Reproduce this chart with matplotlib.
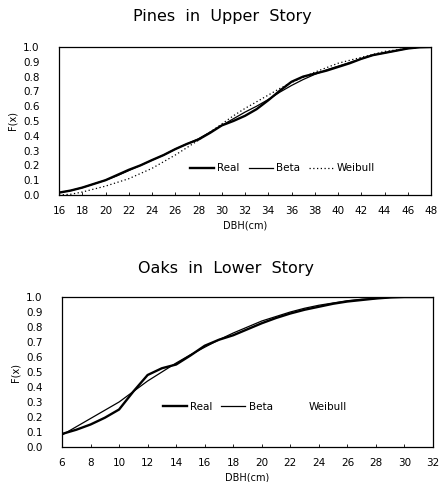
import matplotlib
matplotlib.use("Agg")
import matplotlib.pyplot as plt
from matplotlib.lines import Line2D

# --- Pines in upper story: cumulative distribution of DBH ---
pine_dbh = [16, 17, 18, 19, 20, 21, 22, 23, 24, 25, 26, 27, 28, 29, 30, 31, 32,
            33, 34, 35, 36, 37, 38, 39, 40, 41, 42, 43, 44, 45, 46, 47, 48]
pine_real = [0.016, 0.03, 0.05, 0.075, 0.10, 0.135, 0.17, 0.20, 0.236, 0.27, 0.31,
             0.345, 0.375, 0.42, 0.47, 0.50, 0.535, 0.58, 0.64, 0.705, 0.765, 0.80,
             0.82, 0.84, 0.865, 0.89, 0.92, 0.945, 0.96, 0.975, 0.99, 0.998, 1.0]
pine_beta = [0.016, 0.03, 0.05, 0.075, 0.10, 0.13, 0.165, 0.20, 0.235, 0.27, 0.31,
             0.345, 0.38, 0.425, 0.47, 0.515, 0.56, 0.60, 0.645, 0.695, 0.74, 0.78,
             0.815, 0.845, 0.87, 0.895, 0.92, 0.945, 0.96, 0.975, 0.99, 0.998, 1.0]
pine_weibull = [0.0, 0.005, 0.02, 0.04, 0.06, 0.085, 0.11, 0.145, 0.18, 0.225, 0.27,
                0.32, 0.37, 0.425, 0.48, 0.535, 0.585, 0.63, 0.675, 0.72, 0.76, 0.795,
                0.83, 0.86, 0.89, 0.91, 0.93, 0.95, 0.97, 0.98, 0.99, 0.997, 1.0]

# --- Oaks in lower story ---
oak_dbh = [6, 7, 8, 9, 10, 11, 12, 13, 14, 15, 16, 17, 18, 19, 20, 21, 22, 23, 24,
           25, 26, 27, 28, 29, 30, 31, 32]
oak_real = [0.087, 0.115, 0.15, 0.195, 0.25, 0.37, 0.48, 0.525, 0.55, 0.61, 0.675,
            0.715, 0.745, 0.785, 0.825, 0.86, 0.89, 0.915, 0.935, 0.955, 0.97, 0.98,
            0.99, 0.997, 1.0, 1.0, 1.0]
oak_beta = [0.08, 0.135, 0.19, 0.245, 0.30, 0.37, 0.44, 0.50, 0.56, 0.615, 0.665,
            0.715, 0.76, 0.80, 0.84, 0.87, 0.90, 0.925, 0.945, 0.96, 0.975, 0.985,
            0.99, 0.997, 1.0, 1.0, 1.0]

yticks = [round(0.1 * i, 1) for i in range(11)]
tick_font = dict(fontsize=7.5, family="DejaVu Sans")

fig = plt.figure(figsize=(4.43, 4.82), dpi=100)
W, H = 443, 482


def make_axes(left, right, top, bottom):
    return fig.add_axes([left / W, 1 - bottom / H, (right - left) / W, (bottom - top) / H])


def style(ax, xmin, xmax):
    ax.set_xlim(xmin, xmax)
    ax.set_ylim(0, 1.0)
    ax.set_xticks(range(xmin, xmax + 1, 2))
    ax.set_yticks(yticks)
    ax.set_yticklabels([f"{v:.1f}" for v in yticks], **tick_font)
    ax.set_xticklabels([str(v) for v in range(xmin, xmax + 1, 2)], **tick_font)
    ax.tick_params(axis="x", direction="in", length=2, width=0.6, pad=8)
    ax.tick_params(axis="y", length=0, pad=14)
    for s in ax.spines.values():
        s.set_linewidth(0.9)
    ax.set_xlabel("DBH(cm)", fontsize=7, labelpad=3)
    ax.set_ylabel("F(x)", fontsize=7, labelpad=4)


leg_opts = dict(loc="center", ncol=3, frameon=False, fontsize=7.5, handlelength=2.3,
                handletextpad=0.3, columnspacing=0.9)

# Top panel
ax1 = make_axes(59, 431, 47, 195)
ax1.plot(pine_dbh, pine_real, color="black", lw=1.7, label="Real")
ax1.plot(pine_dbh, pine_beta, color="black", lw=0.9, label="Beta")
ax1.plot(pine_dbh, pine_weibull, color="black", lw=0.9, ls=(0, (1, 2)), label="Weibull")
style(ax1, 16, 48)
fig.text(222 / W, 1 - 16 / H, "Pines  in  Upper  Story", ha="center", va="center", fontsize=11.5)
ax1.legend(bbox_to_anchor=(0.60, 0.18), **leg_opts)

# Bottom panel
ax2 = make_axes(62, 433, 297, 447)
ax2.plot(oak_dbh, oak_real, color="black", lw=1.7)
ax2.plot(oak_dbh, oak_beta, color="black", lw=0.9)
style(ax2, 6, 32)
fig.text(226 / W, 1 - 268 / H, "Oaks  in  Lower  Story", ha="center", va="center", fontsize=11.5)
handles = [Line2D([], [], color="black", lw=1.7),
           Line2D([], [], color="black", lw=0.9),
           Line2D([], [], color="none")]
ax2.legend(handles, ["Real", "Beta", "Weibull"], bbox_to_anchor=(0.52, 0.27), **leg_opts)

fig.savefig("out.png", dpi=100)
